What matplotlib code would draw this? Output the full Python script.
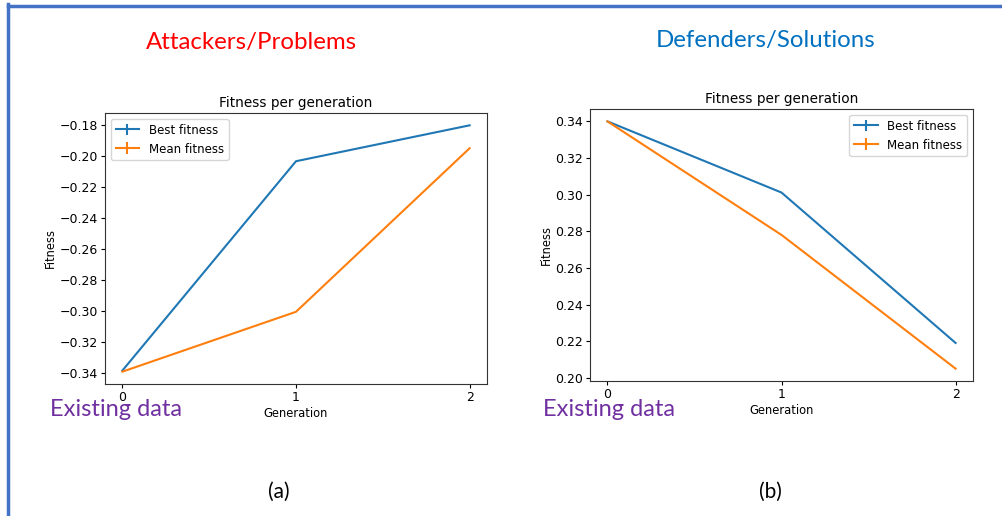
import matplotlib
matplotlib.use("Agg")
import matplotlib.pyplot as plt
from matplotlib.lines import Line2D

generations = [0, 1, 2]
att_best = [-0.3385, -0.2032, -0.1800]
att_mean = [-0.3392, -0.3005, -0.1948]
def_best = [0.3400, 0.3012, 0.2192]
def_mean = [0.3400, 0.2781, 0.2052]

W, H = 1003, 516
fig = plt.figure(figsize=(W / 100, H / 100), dpi=100)
fig.patch.set_facecolor("white")

def box(l, t, r, b):
    return [l / W, 1 - b / H, (r - l) / W, (b - t) / H]

def make_panel(rect, best, mean, legend_loc):
    ax = fig.add_axes(box(*rect))
    ax.errorbar(generations, best, yerr=[0, 0, 0], color="#1f77b4", lw=1.5, label="Best fitness")
    ax.errorbar(generations, mean, yerr=[0, 0, 0], color="#ff7f0e", lw=1.5, label="Mean fitness")
    ax.set_xticks(generations)
    ax.set_title("Fitness per generation", fontsize=9.8, pad=4)
    ax.set_xlabel("Generation", fontsize=8.3, labelpad=2)
    ax.set_ylabel("Fitness", fontsize=8.3, labelpad=2)
    ax.tick_params(labelsize=9, length=3, pad=2)
    ax.legend(loc=legend_loc, fontsize=8.5, handlelength=2.0, borderpad=0.4, labelspacing=0.5)
    for s in ax.spines.values():
        s.set_color("#333333")
    return ax

ax1 = make_panel((105, 113, 487, 384), att_best, att_mean, "upper left")
ax2 = make_panel((590, 109, 973, 381), def_best, def_mean, "upper right")

font = ["Lato", "DejaVu Sans"]
fig.text(251 / W, 1 - 42 / H, "Attackers/Problems", color="#ff0000", fontsize=17.3,
         family=font, ha="center", va="center")
fig.text(766 / W, 1 - 40 / H, "Defenders/Solutions", color="#0070c0", fontsize=17.3,
         family=font, ha="center", va="center")
fig.text(50 / W, 1 - 410 / H, "Existing data", color="#7030a0", fontsize=17,
         family=font, ha="left", va="center")
fig.text(543 / W, 1 - 410 / H, "Existing data", color="#7030a0", fontsize=17,
         family=font, ha="left", va="center")
fig.text(279 / W, 1 - 492 / H, "(a)", color="black", fontsize=15,
         family=font, ha="center", va="center")
fig.text(770 / W, 1 - 492 / H, "(b)", color="black", fontsize=15,
         family=font, ha="center", va="center")

# slide border (top and left edges visible)
fig.add_artist(Line2D([8 / W, 1], [1 - 5.5 / H, 1 - 5.5 / H], color="#4472c4", lw=2.5,
                      transform=fig.transFigure))
fig.add_artist(Line2D([8.5 / W, 8.5 / W], [0, 1 - 4 / H], color="#4472c4", lw=2.5,
                      transform=fig.transFigure))

fig.savefig("out.png", dpi=100)
